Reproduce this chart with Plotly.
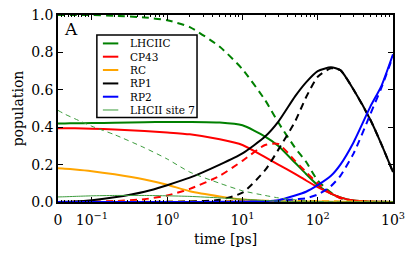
import numpy as np
import plotly.graph_objects as go

# ---- data (time in ps, populations) ----
time_ps = [0, 0.02, 0.05, 0.1, 0.2, 0.5, 1, 2, 5, 10, 20, 30, 50, 70, 100, 150, 200, 300, 500, 700, 1000]

lhciic_a = [0.42, 0.42, 0.421, 0.422, 0.424, 0.427, 0.428, 0.428, 0.425, 0.41, 0.35, 0.30, 0.21, 0.15, 0.09, 0.045, 0.025, 0.008, 0.002, 0.001, 0.0]
lhciic_b = [1.0, 1.0, 1.0, 1.0, 0.996, 0.987, 0.972, 0.935, 0.83, 0.71, 0.545, 0.425, 0.29, 0.215, 0.115, 0.05, 0.022, 0.006, 0.001, 0.0, 0.0]
cp43_a = [0.395, 0.395, 0.394, 0.392, 0.388, 0.38, 0.372, 0.362, 0.335, 0.305, 0.24, 0.2, 0.15, 0.115, 0.08, 0.045, 0.025, 0.008, 0.002, 0.001, 0.0]
cp43_b = [0.0, 0.0, 0.001, 0.002, 0.005, 0.015, 0.035, 0.07, 0.14, 0.22, 0.305, 0.31, 0.22, 0.16, 0.1, 0.045, 0.02, 0.006, 0.001, 0.0, 0.0]
rc_a = [0.18, 0.178, 0.174, 0.165, 0.148, 0.12, 0.092, 0.058, 0.03, 0.013, 0.006, 0.004, 0.003, 0.003, 0.003, 0.002, 0.002, 0.001, 0.001, 0.0, 0.0]
rc_b = [0.0, 0.0, 0.0, 0.0, 0.001, 0.001, 0.002, 0.003, 0.005, 0.006, 0.007, 0.007, 0.007, 0.006, 0.005, 0.004, 0.003, 0.002, 0.001, 0.001, 0.0]
rp1_a = [0.0, 0.001, 0.003, 0.01, 0.025, 0.055, 0.09, 0.13, 0.2, 0.26, 0.35, 0.43, 0.565, 0.64, 0.7, 0.72, 0.705, 0.6, 0.44, 0.31, 0.16]
rp1_b = [0.0, 0.0, 0.0, 0.0, 0.0, 0.0, 0.001, 0.003, 0.012, 0.05, 0.17, 0.28, 0.43, 0.56, 0.67, 0.715, 0.705, 0.6, 0.44, 0.31, 0.16]
rp2_a = [0.0, 0.0, 0.0, 0.0, 0.0, 0.0, 0.0, 0.0, 0.001, 0.002, 0.005, 0.01, 0.035, 0.055, 0.09, 0.14, 0.2, 0.32, 0.51, 0.62, 0.79]
rp2_b = [0.0, 0.0, 0.0, 0.0, 0.0, 0.0, 0.0, 0.0, 0.0, 0.001, 0.003, 0.006, 0.015, 0.02, 0.04, 0.085, 0.14, 0.26, 0.47, 0.61, 0.78]
site7_a = [0.027, 0.028, 0.03, 0.033, 0.035, 0.035, 0.033, 0.03, 0.022, 0.015, 0.008, 0.005, 0.002, 0.001, 0.001, 0.0, 0.0, 0.0, 0.0, 0.0, 0.0]
site7_b = [0.49, 0.47, 0.445, 0.405, 0.36, 0.29, 0.23, 0.16, 0.1, 0.06, 0.035, 0.022, 0.012, 0.006, 0.003, 0.001, 0.0, 0.0, 0.0, 0.0, 0.0]

series_names = ["LHCIIC", "CP43", "RC", "RP1", "RP2", "LHCII site 7"]

x_tick_times = [0, 0.1, 1, 10, 100, 1000]
x_tick_text = ["0", "10<sup>\u22121</sup>", "10<sup>0</sup>", "10<sup>1</sup>", "10<sup>2</sup>", "10<sup>3</sup>"]
y_ticks = [0.0, 0.2, 0.4, 0.6, 0.8, 1.0]

# ---- symlog-like axis transform (linear below 0.1 ps, log above) ----
LINTHRESH = 0.1
LINSCALE = 0.45


def symlog(t):
    t = np.asarray(t, dtype=float)
    return np.where(t < LINTHRESH, t / LINTHRESH * LINSCALE,
                    LINSCALE + np.log10(np.maximum(t, LINTHRESH) / LINTHRESH))


minor_times = [i * 0.01 for i in range(1, 10)]
for dec in [0.1, 1, 10, 100]:
    minor_times += [k * dec for k in range(2, 10)]

X = symlog(time_ps)

FONT = "DejaVu Serif, serif"
green = "#008000"
colors = [green, "#ff0000", "#ffa500", "#000000", "#0000ff", "#3c9c3c"]
widths = [2.0, 2.0, 2.0, 2.0, 2.0, 1.0]
solid_sets = [lhciic_a, cp43_a, rc_a, rp1_a, rp2_a, site7_a]
dashed_sets = [lhciic_b, cp43_b, rc_b, rp1_b, rp2_b, site7_b]

fig = go.Figure()
for name, ya, yb, col, w in zip(series_names, solid_sets, dashed_sets, colors, widths):
    fig.add_trace(go.Scatter(x=X, y=ya, mode="lines", name=name, showlegend=False,
                             line=dict(color=col, width=w, shape="spline", smoothing=0.6)))
    fig.add_trace(go.Scatter(x=X, y=yb, mode="lines", name=name, showlegend=False,
                             line=dict(color=col, width=w, shape="spline", smoothing=0.6,
                                       dash="7px,5px" if w > 1.5 else "5px,4px")))

# ---- legend box (drawn in paper coordinates) ----
fig.add_shape(type="rect", xref="paper", yref="paper", x0=0.116, x1=0.415, y0=0.452, y1=0.893,
              line=dict(color="black", width=1.5), fillcolor="white", layer="above")
row_y = [0.848, 0.777, 0.706, 0.634, 0.563, 0.492]
for name, col, w, yy in zip(series_names, colors, widths, row_y):
    fig.add_shape(type="line", xref="paper", yref="paper", x0=0.134, x1=0.180, y0=yy, y1=yy,
                  line=dict(color=col, width=w), layer="above")
    fig.add_annotation(text=name, xref="paper", yref="paper", x=0.208, y=yy,
                       xanchor="left", yanchor="middle", showarrow=False,
                       font=dict(family=FONT, size=10.5, color="black"))

fig.add_annotation(text="A", x=0.012, y=0.99, xref="paper", yref="paper",
                   xanchor="left", yanchor="top", showarrow=False,
                   font=dict(family=FONT, size=17, color="black"))

fig.update_layout(
    width=400, height=240,
    margin=dict(l=50, r=15, t=7, b=46),
    plot_bgcolor="white", paper_bgcolor="white",
    font=dict(family=FONT, size=14, color="black"),
    showlegend=False,
    xaxis=dict(range=[0, float(symlog([1000])[0])], tickmode="array",
               tickvals=list(symlog(x_tick_times)), ticktext=x_tick_text,
               ticks="inside", ticklen=5, tickwidth=1, tickcolor="black",
               showline=True, linecolor="black", linewidth=1.5, mirror="ticks",
               showgrid=False, zeroline=False, automargin=False,
               ticklabeloverflow="allow", ticklabelstandoff=4,
               tickfont=dict(family=FONT, size=14),
               minor=dict(tickmode="array", tickvals=list(symlog(minor_times)),
                          ticks="inside", ticklen=2.5, tickwidth=1, tickcolor="black",
                          showgrid=False),
               title=dict(text="time [ps]", font=dict(family=FONT, size=14), standoff=8)),
    yaxis=dict(range=[0, 1.0], tickmode="array", tickvals=y_ticks,
               ticktext=["%.1f" % v for v in y_ticks],
               ticks="inside", ticklen=5, tickwidth=1, tickcolor="black",
               showline=True, linecolor="black", linewidth=1.5, mirror="ticks",
               showgrid=False, zeroline=False, automargin=False,
               ticklabeloverflow="allow",
               tickfont=dict(family=FONT, size=14),
               title=dict(text="population", font=dict(family=FONT, size=14), standoff=4)),
)

fig.write_html("out.html")
